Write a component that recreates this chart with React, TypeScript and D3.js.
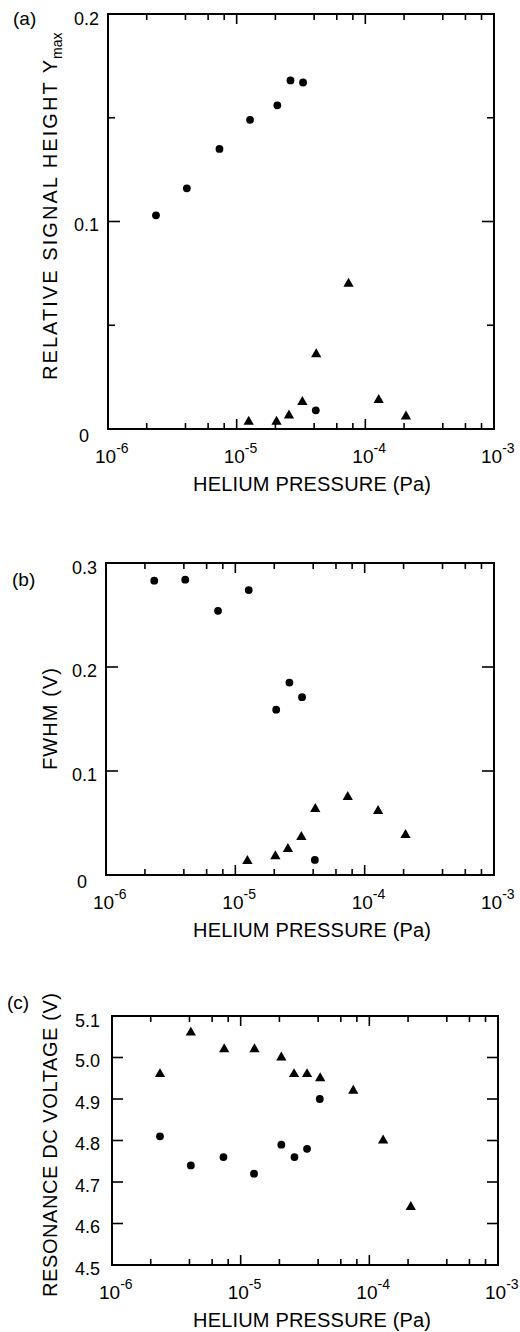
import React from 'react';
import * as d3 from 'd3';

// ---- data ----
const pressureCircles = [2.36e-6, 4.1e-6, 7.35e-6, 1.27e-5, 2.07e-5, 2.62e-5, 3.28e-5, 4.12e-5];
const pressureTrianglesAB = [1.24e-5, 2.04e-5, 2.55e-5, 3.24e-5, 4.15e-5, 7.4e-5, 1.27e-4, 2.07e-4];
const pressureTrianglesC = [2.36e-6, 4.1e-6, 7.45e-6, 1.28e-5, 2.07e-5, 2.6e-5, 3.28e-5, 4.15e-5, 7.5e-5, 1.28e-4, 2.1e-4];

const signalCircles = [0.103, 0.116, 0.135, 0.149, 0.156, 0.168, 0.167, 0.009];
const signalTriangles = [0.0035, 0.0035, 0.0065, 0.013, 0.036, 0.07, 0.014, 0.006];
const fwhmCircles = [0.283, 0.284, 0.254, 0.274, 0.159, 0.185, 0.171, 0.0145];
const fwhmTriangles = [0.0135, 0.018, 0.025, 0.0365, 0.0635, 0.075, 0.0615, 0.0385];
const voltageCircles = [4.81, 4.74, 4.76, 4.72, 4.79, 4.76, 4.78, 4.9];
const voltageTriangles = [4.96, 5.06, 5.02, 5.02, 5.0, 4.96, 4.96, 4.95, 4.92, 4.8, 4.64];

const decades = [1e-6, 1e-5, 1e-4, 1e-3];
const decadeExponents = ['-6', '-5', '-4', '-3'];
const minorMultipliers = [2, 4, 6, 8];

const yMajorA = [0, 0.1, 0.2];
const yMinorA = [0.05, 0.15];
const yLabelsA = ['0', '0.1', '0.2'];
const yMajorB = [0, 0.1, 0.2, 0.3];
const yLabelsB = ['0', '0.1', '0.2', '0.3'];
const yMajorC = [4.5, 4.6, 4.7, 4.8, 4.9, 5.0, 5.1];
const yLabelsC = ['4.5', '4.6', '4.7', '4.8', '4.9', '5.0', '5.1'];

const xTitle = 'HELIUM PRESSURE (Pa)';

const FONT = "'Liberation Sans', Arial, Helvetica, sans-serif";

type Series = { x: number[]; y: number[]; shape: 'circle' | 'triangle' };

interface PanelProps {
  left: number; right: number; top: number; bottom: number;
  yDomain: [number, number];
  yMajor: number[]; yLabels: string[]; yMinor: number[];
  majorLen: number; minorLen: number;
  labelGap: number;
  series: Series[];
  tag: string; tagX: number; tagY: number;
}

function Panel(p: PanelProps) {
  const x = d3.scaleLog().domain([1e-6, 1e-3]).range([p.left, p.right]);
  const y = d3.scaleLinear().domain(p.yDomain).range([p.bottom, p.top]);
  const minors: number[] = [];
  decades.slice(0, 3).forEach((d) => minorMultipliers.forEach((m) => minors.push(d * m)));
  const tri = d3.symbol().type(d3.symbolTriangle).size(46)()!;
  const stroke = '#000';
  return (
    <g fontFamily={FONT}>
      <text x={p.tagX} y={p.tagY} fontSize={19}>{p.tag}</text>
      {/* x ticks bottom & top */}
      {decades.map((d, i) => (
        <g key={'d' + i}>
          <line x1={x(d)} x2={x(d)} y1={p.bottom} y2={p.bottom - 10} stroke={stroke} strokeWidth={1.6} />
          <line x1={x(d)} x2={x(d)} y1={p.top} y2={p.top + 10} stroke={stroke} strokeWidth={1.6} />
          <text x={x(d) - 13} y={p.bottom + 34} fontSize={19}>
            10<tspan fontSize={14} dy={-10}>{decadeExponents[i]}</tspan>
          </text>
        </g>
      ))}
      {minors.map((m, i) => (
        <g key={'m' + i}>
          <line x1={x(m)} x2={x(m)} y1={p.bottom} y2={p.bottom - 6} stroke={stroke} strokeWidth={1.6} />
          <line x1={x(m)} x2={x(m)} y1={p.top} y2={p.top + 6} stroke={stroke} strokeWidth={1.6} />
        </g>
      ))}
      {/* y ticks */}
      {p.yMajor.map((v, i) => (
        <g key={'y' + i}>
          <line x1={p.left} x2={p.left + p.majorLen} y1={y(v)} y2={y(v)} stroke={stroke} strokeWidth={1.6} />
          <line x1={p.right} x2={p.right - p.majorLen} y1={y(v)} y2={y(v)} stroke={stroke} strokeWidth={1.6} />
          <text
            x={p.yLabels[i] === '0' ? p.left - 19 : p.left - p.labelGap}
            y={y(v) + (p.yLabels[i] === '0' ? 13 : i === p.yMajor.length - 1 ? 11 : 9.5)}
            fontSize={18}
            textAnchor="end"
          >
            {p.yLabels[i]}
          </text>
        </g>
      ))}
      {p.yMinor.map((v, i) => (
        <g key={'ym' + i}>
          <line x1={p.left} x2={p.left + p.minorLen} y1={y(v)} y2={y(v)} stroke={stroke} strokeWidth={1.6} />
          <line x1={p.right} x2={p.right - p.minorLen} y1={y(v)} y2={y(v)} stroke={stroke} strokeWidth={1.6} />
        </g>
      ))}
      <rect x={p.left} y={p.top} width={p.right - p.left} height={p.bottom - p.top} fill="none" stroke={stroke} strokeWidth={2} />
      <text x={312} y={p.bottom + 62} fontSize={20} textAnchor="middle" textLength={238} lengthAdjust="spacing">
        {xTitle}
      </text>
      {p.series.map((s, si) =>
        s.x.map((xv, i) =>
          s.shape === 'circle' ? (
            <circle key={si + '-' + i} cx={x(xv)} cy={y(s.y[i])} r={3.9} fill="#000" />
          ) : (
            <path key={si + '-' + i} d={tri} transform={`translate(${x(xv)},${y(s.y[i])})`} fill="#000" />
          )
        )
      )}
    </g>
  );
}

export default function App() {
  return (
    <div style={{ position: 'absolute', left: 0, top: 0, width: 520, height: 1332, overflow: 'hidden', background: '#fff' }}>
      <svg width={520} height={1332} style={{ display: 'block' }}>
        <rect width={520} height={1332} fill="#fff" />
        <Panel
          left={108} right={494} top={14} bottom={429}
          yDomain={[0, 0.2]} yMajor={yMajorA} yLabels={yLabelsA} yMinor={yMinorA}
          majorLen={12} minorLen={7} labelGap={9}
          series={[
            { x: pressureCircles, y: signalCircles, shape: 'circle' },
            { x: pressureTrianglesAB, y: signalTriangles, shape: 'triangle' },
          ]}
          tag="(a)" tagX={13} tagY={25}
        />
        <Panel
          left={106} right={494} top={563} bottom={875}
          yDomain={[0, 0.3]} yMajor={yMajorB} yLabels={yLabelsB} yMinor={[]}
          majorLen={12} minorLen={7} labelGap={9}
          series={[
            { x: pressureCircles, y: fwhmCircles, shape: 'circle' },
            { x: pressureTrianglesAB, y: fwhmTriangles, shape: 'triangle' },
          ]}
          tag="(b)" tagX={12} tagY={586}
        />
        <Panel
          left={112} right={498} top={1016} bottom={1265}
          yDomain={[4.5, 5.1]} yMajor={yMajorC} yLabels={yLabelsC} yMinor={[]}
          majorLen={11} minorLen={7} labelGap={12}
          series={[
            { x: pressureCircles, y: voltageCircles, shape: 'circle' },
            { x: pressureTrianglesC, y: voltageTriangles, shape: 'triangle' },
          ]}
          tag="(c)" tagX={7} tagY={1009}
        />
        {/* y-axis titles */}
        <g fontFamily={FONT} fontSize={20}>
          <text transform="translate(57,380) rotate(-90)" textLength={320} lengthAdjust="spacing">
            RELATIVE SIGNAL HEIGHT Y
          </text>
          <text transform="translate(62,59) rotate(-90)" fontSize={14}>max</text>
          <text transform="translate(57,770) rotate(-90)" textLength={102} lengthAdjust="spacing">
            FWHM (V)
          </text>
          <text transform="translate(57,1297) rotate(-90)" textLength={304} lengthAdjust="spacing">
            RESONANCE DC VOLTAGE (V)
          </text>
        </g>
      </svg>
    </div>
  );
}
